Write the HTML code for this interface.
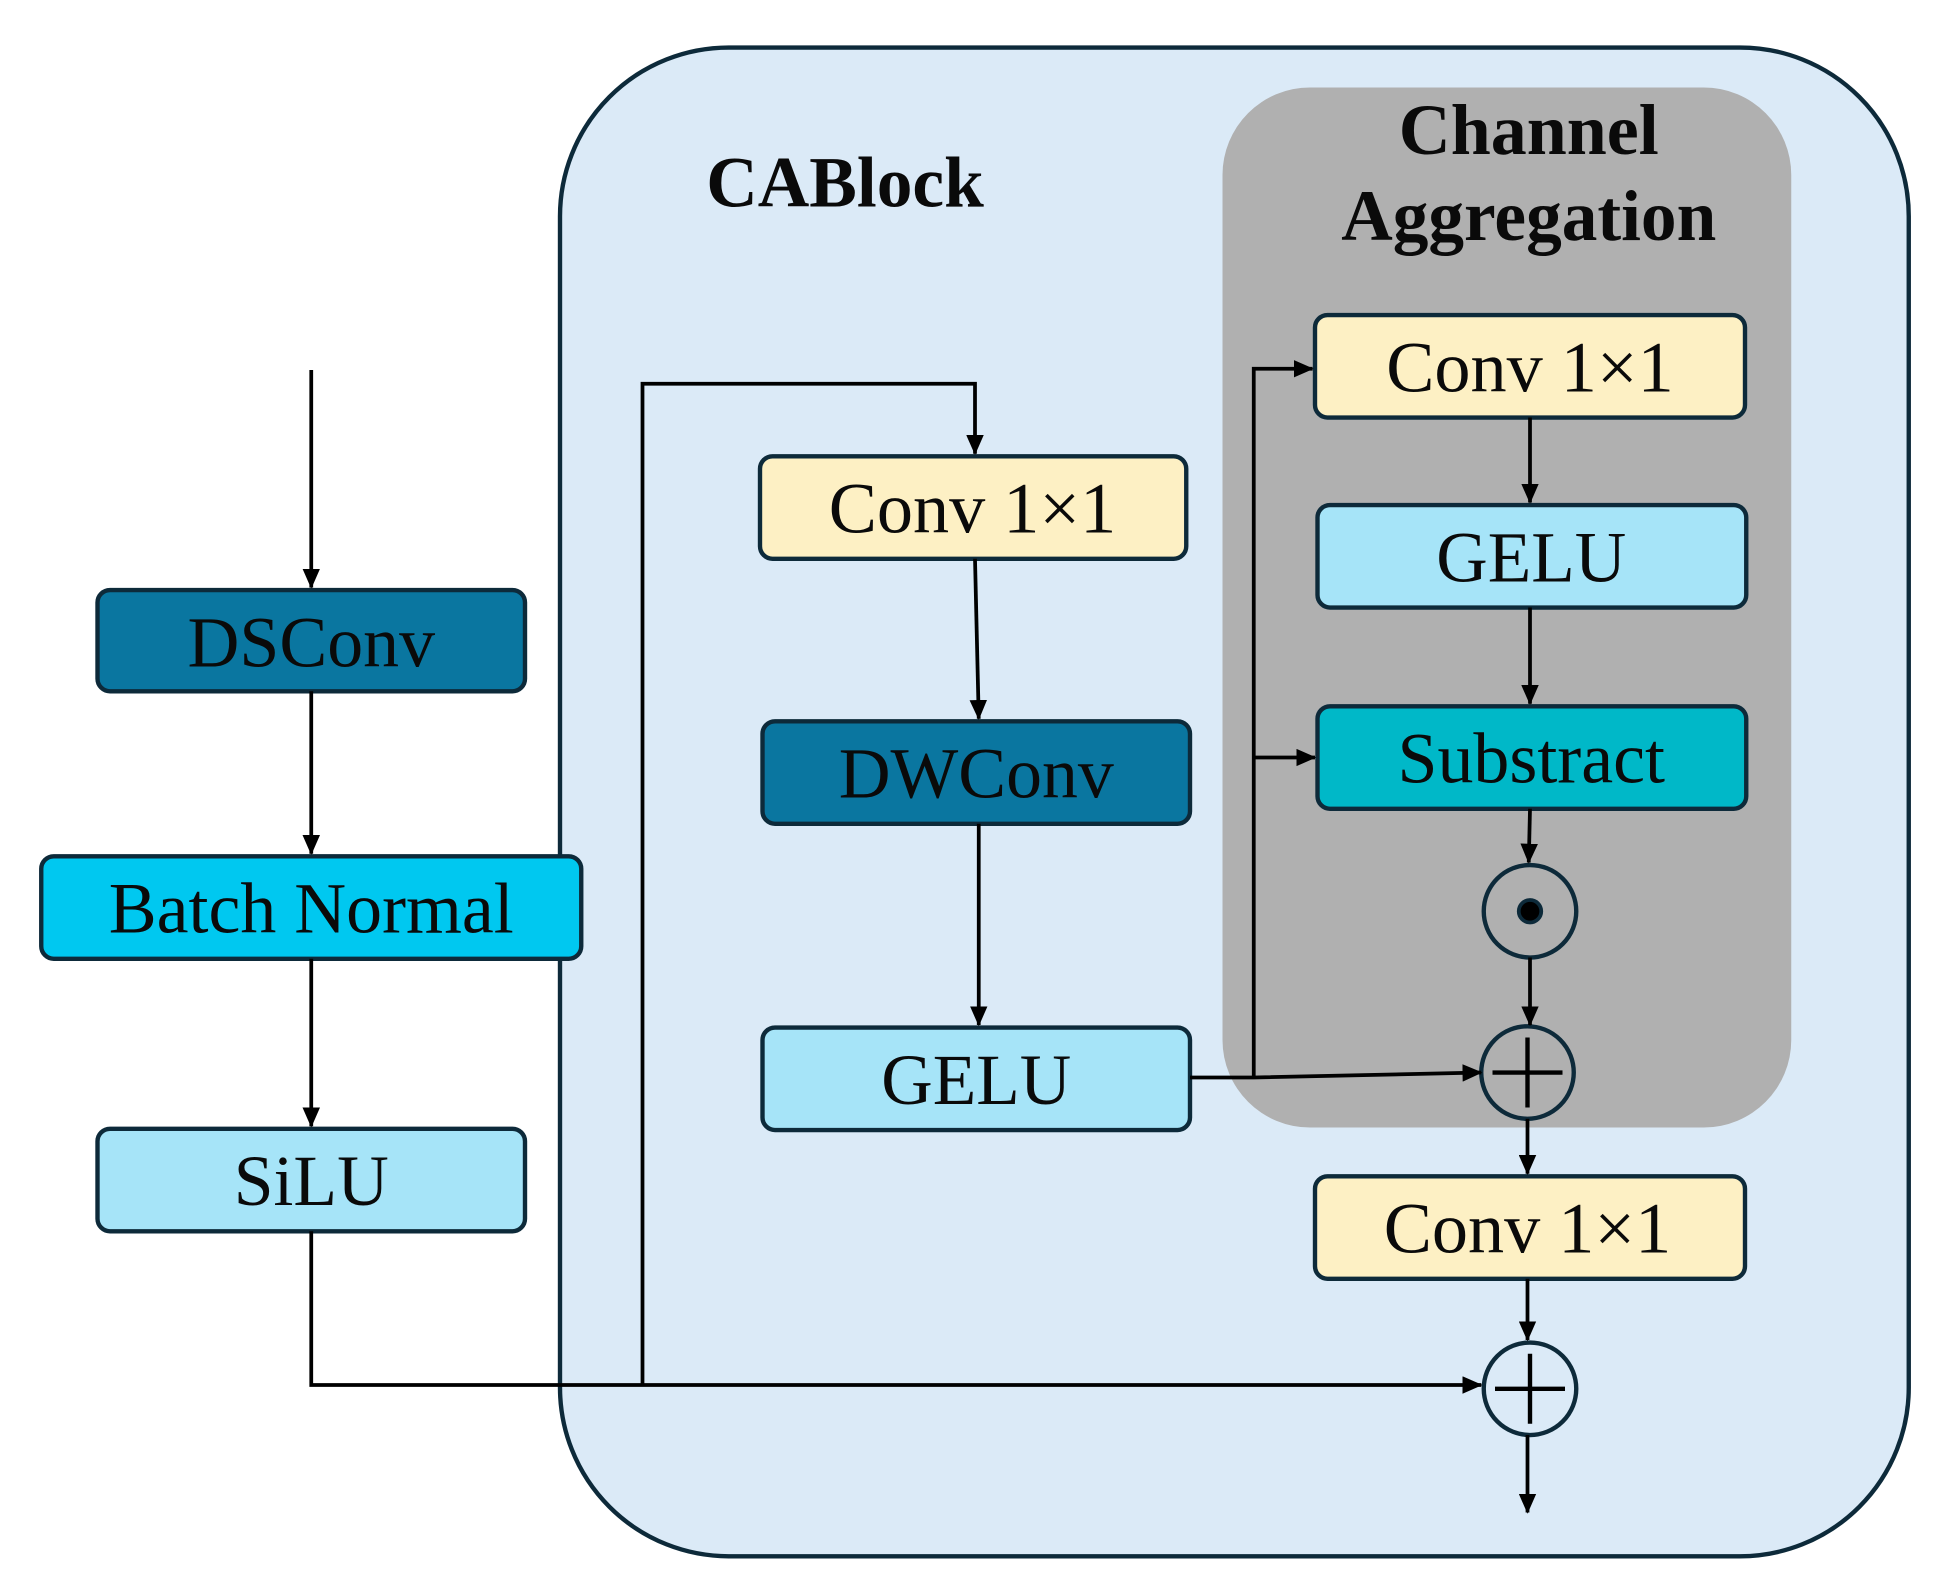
<!DOCTYPE html>
<html><head><meta charset="utf-8"><style>
html,body{margin:0;padding:0;background:#fff;}
svg{display:block;}
text{font-family:"Liberation Serif",serif;fill:#0a0a0a;}
</style></head><body>
<svg width="1939" height="1590" viewBox="0 0 1551.2 1272" xmlns="http://www.w3.org/2000/svg">
<defs>
<marker id="a" markerWidth="16" markerHeight="14" refX="15" refY="7" orient="auto" markerUnits="userSpaceOnUse">
<path d="M0,0 L16,7 L0,14 Z" fill="#000"/>
</marker>
</defs>
<rect x="448" y="38" width="1079" height="1207" rx="135" fill="#dbeaf7" stroke="#0d2a3a" stroke-width="3.5"/>
<rect x="978" y="70" width="455" height="832" rx="70" fill="#b0b0b0"/>
<g font-weight="bold" font-size="58" text-anchor="middle" lengthAdjust="spacingAndGlyphs">
<text x="676" y="165" textLength="222" lengthAdjust="spacingAndGlyphs">CABlock</text>
<text x="1223" y="123" textLength="208" lengthAdjust="spacingAndGlyphs">Channel</text>
<text x="1223" y="192" textLength="300" lengthAdjust="spacingAndGlyphs">Aggregation</text>
</g>

<g stroke="#0d2a3a" stroke-width="3.5">
<rect x="78" y="472" width="342" height="81" rx="10" fill="#0a76a0"/>
<rect x="33" y="685" width="432" height="82" rx="10" fill="#00c8f0"/>
<rect x="78" y="903" width="342" height="82" rx="10" fill="#a6e4f8"/>
<rect x="608" y="365" width="341" height="82" rx="10" fill="#fdf0c4"/>
<rect x="610" y="577" width="342" height="82" rx="10" fill="#0a76a0"/>
<rect x="610" y="822" width="342" height="82" rx="10" fill="#a6e4f8"/>
<rect x="1052" y="252" width="344" height="82" rx="10" fill="#fdf0c4"/>
<rect x="1054" y="404" width="343" height="82" rx="10" fill="#a6e4f8"/>
<rect x="1054" y="565" width="343" height="82" rx="10" fill="#00b8c8"/>
<rect x="1052" y="941" width="344" height="82" rx="10" fill="#fdf0c4"/>
<circle cx="1224" cy="729" r="37" fill="none"/>
<circle cx="1222" cy="858" r="37" fill="none"/>
<circle cx="1224" cy="1111" r="37" fill="none"/>
</g>
<circle cx="1224" cy="729" r="9" fill="#000" stroke="#0d2a3a" stroke-width="3"/>
<g stroke="#000" stroke-width="3.5" fill="none">
<path d="M1194,858 H1250 M1222,830 V886"/>
<path d="M1196,1111 H1252 M1224,1083 V1139"/>
</g>

<g font-size="58" text-anchor="middle">
<text x="249" y="533" textLength="198" lengthAdjust="spacingAndGlyphs">DSConv</text>
<text x="249" y="746" textLength="324" lengthAdjust="spacingAndGlyphs">Batch Normal</text>
<text x="249" y="964" textLength="124" lengthAdjust="spacingAndGlyphs">SiLU</text>
<text x="778" y="426" textLength="230" lengthAdjust="spacingAndGlyphs">Conv 1×1</text>
<text x="781" y="638" textLength="220" lengthAdjust="spacingAndGlyphs">DWConv</text>
<text x="781" y="883" textLength="152" lengthAdjust="spacingAndGlyphs">GELU</text>
<text x="1224" y="313" textLength="230" lengthAdjust="spacingAndGlyphs">Conv 1×1</text>
<text x="1225" y="465" textLength="152" lengthAdjust="spacingAndGlyphs">GELU</text>
<text x="1225" y="626" textLength="214" lengthAdjust="spacingAndGlyphs">Substract</text>
<text x="1222" y="1002" textLength="230" lengthAdjust="spacingAndGlyphs">Conv 1×1</text>
</g>

<g stroke="#000" stroke-width="3" fill="none" marker-end="url(#a)">
<path d="M249,296 V470"/>
<path d="M249,553 V683"/>
<path d="M249,767 V901"/>
<path d="M249,985 V1108 H1185"/>
<path d="M514,1108 V307 H780 V363"/>
<path d="M780,447 L783,575"/>
<path d="M783,659 V820"/>
<path d="M952,862 H1003 L1185,858"/>
<path d="M1003,862 V295 H1050"/>
<path d="M1003,606 H1052"/>
<path d="M1224,334 V402"/>
<path d="M1224,486 V563"/>
<path d="M1224,647 L1223,690"/>
<path d="M1224,766 V820"/>
<path d="M1222,895 V939"/>
<path d="M1222,1023 V1072"/>
<path d="M1222,1148 V1210"/>
</g>
</svg>
</body></html>
